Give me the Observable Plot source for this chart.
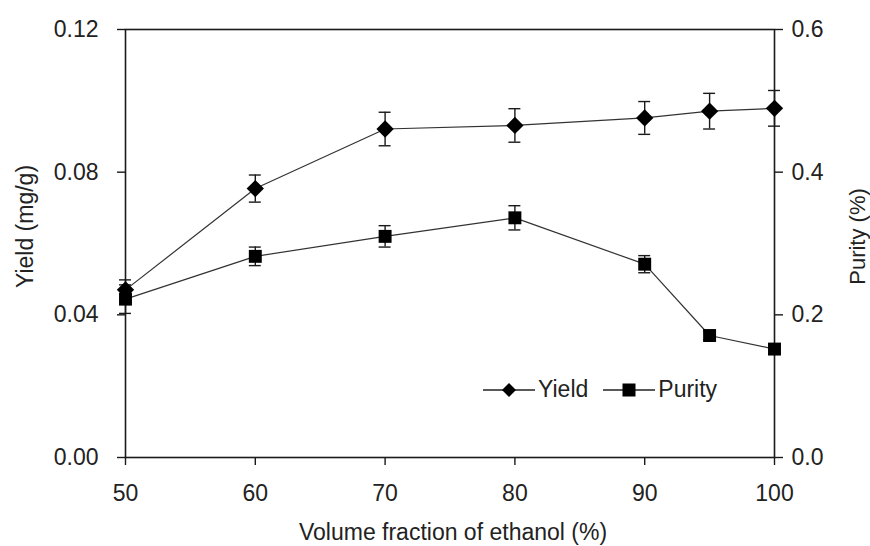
<!DOCTYPE html>
<html>
<head>
<meta charset="utf-8">
<script src="https://cdn.jsdelivr.net/npm/d3@7"></script>
<script src="https://cdn.jsdelivr.net/npm/@observablehq/plot@0.6"></script>
<style>
  html, body { margin: 0; padding: 0; background: #fff; }
  #wrap { position: relative; width: 870px; height: 546px; }
  #legend { position: absolute; left: 483px; top: 376px; display: flex; align-items: center;
    font-family: "Liberation Sans", Arial, sans-serif; font-size: 23px; color: #222; }
  #legend .item { display: flex; align-items: center; }
  #legend svg { display: block; }
</style>
</head>
<body>
<div id="wrap"></div>
<script>
// Data
const ethanol = [50, 60, 70, 80, 90, 95, 100];
const yieldVals = [0.047, 0.0754, 0.0921, 0.0931, 0.0952, 0.0971, 0.0979];
const yieldErr = [0.0028, 0.0038, 0.0047, 0.0047, 0.0046, 0.0050, 0.0050];
const purityVals = [0.222, 0.282, 0.310, 0.336, 0.271, 0.171, 0.152];
const purityErr = [0.020, 0.013, 0.015, 0.017, 0.012, 0.006, 0.006];
const xTicks = [50, 60, 70, 80, 90, 100];
const yTicks = [0, 0.04, 0.08, 0.12];
const seriesNames = ["Yield", "Purity"];
const xTitle = "Volume fraction of ethanol (%)";
const yTitle = "Yield (mg/g)";
const y2Title = "Purity (%)";

// purity axis (0–0.6) mapped onto yield axis (0–0.12)
const k = 0.12 / 0.6;

const yieldData = ethanol.map((x, i) => ({x, v: yieldVals[i], e: yieldErr[i]}));
const purityData = ethanol.map((x, i) => ({x, v: purityVals[i] * k, e: purityErr[i] * k}));

const ink = "#1a1a1a";
const textInk = "#222";
const capHalf = 0.46;

const chart = Plot.plot({
  width: 870,
  height: 546,
  marginLeft: 125,
  marginRight: 96,
  marginTop: 29,
  marginBottom: 89,
  style: {fontFamily: "'Liberation Sans', Arial, sans-serif", fontSize: "23px", color: textInk, background: "#fff"},
  x: {domain: [50, 100]},
  y: {domain: [0, 0.12]},
  marks: [
    Plot.axisX({ticks: xTicks, tickSize: 8, tickPadding: 19, tickFormat: d => String(d),
      label: null, stroke: ink, strokeWidth: 1.4}),
    Plot.axisY({ticks: yTicks, tickSize: 8, tickPadding: 19, tickFormat: d => d.toFixed(2),
      label: null, stroke: ink, strokeWidth: 1.4}),
    Plot.axisY({anchor: "right", ticks: yTicks, tickSize: 8, tickPadding: 9, tickFormat: d => (d / k).toFixed(1),
      label: null, stroke: ink, strokeWidth: 1.4}),
    Plot.frame({stroke: ink, strokeWidth: 1.6}),
    // axis titles
    Plot.text([xTitle], {text: d => d, frameAnchor: "bottom", dy: 75, dx: 3, lineAnchor: "middle", fill: textInk, fontSize: 23}),
    Plot.text([yTitle], {text: d => d, frameAnchor: "left", dx: -100, dy: -17, rotate: -90, lineAnchor: "middle", textAnchor: "middle", fill: textInk, fontSize: 23}),
    Plot.text([y2Title], {text: d => d, frameAnchor: "right", dx: 83, dy: -7, rotate: -90, lineAnchor: "middle", textAnchor: "middle", fill: textInk, fontSize: 22}),
    // lines
    Plot.line(yieldData, {x: "x", y: "v", stroke: "#333", strokeWidth: 1.2}),
    Plot.line(purityData, {x: "x", y: "v", stroke: "#333", strokeWidth: 1.2}),
    // error bars
    Plot.ruleX(yieldData, {x: "x", y1: d => d.v - d.e, y2: d => d.v + d.e, stroke: ink, strokeWidth: 1.4}),
    Plot.ruleY(yieldData, {y: d => d.v + d.e, x1: d => d.x - capHalf, x2: d => d.x + capHalf, stroke: ink, strokeWidth: 1.4}),
    Plot.ruleY(yieldData, {y: d => d.v - d.e, x1: d => d.x - capHalf, x2: d => d.x + capHalf, stroke: ink, strokeWidth: 1.4}),
    Plot.ruleX(purityData, {x: "x", y1: d => d.v - d.e, y2: d => d.v + d.e, stroke: ink, strokeWidth: 1.4}),
    Plot.ruleY(purityData, {y: d => d.v + d.e, x1: d => d.x - capHalf, x2: d => d.x + capHalf, stroke: ink, strokeWidth: 1.4}),
    Plot.ruleY(purityData, {y: d => d.v - d.e, x1: d => d.x - capHalf, x2: d => d.x + capHalf, stroke: ink, strokeWidth: 1.4}),
    // markers
    Plot.dot(purityData, {x: "x", y: "v", symbol: "square", r: 7.3, fill: "#000", stroke: "none"}),
    Plot.dot(yieldData, {x: "x", y: "v", symbol: "diamond2", r: 7.8, fill: "#000", stroke: "none"})
  ]
});

const wrap = document.getElementById("wrap");
wrap.appendChild(chart);

// Legend
const legend = document.createElement("div");
legend.id = "legend";
const sym = [
  '<polygon points="26,3 33,10 26,17 19,10" fill="#000"/>',
  '<rect x="19.5" y="3.5" width="13" height="13" fill="#000"/>'
];
seriesNames.forEach((name, i) => {
  const item = document.createElement("div");
  item.className = "item";
  item.style.marginRight = i === 0 ? "15px" : "0";
  item.innerHTML = `<svg width="52" height="20"><line x1="0" y1="10" x2="52" y2="10" stroke="#222" stroke-width="1.4"/>${sym[i]}</svg><span style="margin-left:3px">${name}</span>`;
  legend.appendChild(item);
});
wrap.appendChild(legend);
</script>
</body>
</html>
